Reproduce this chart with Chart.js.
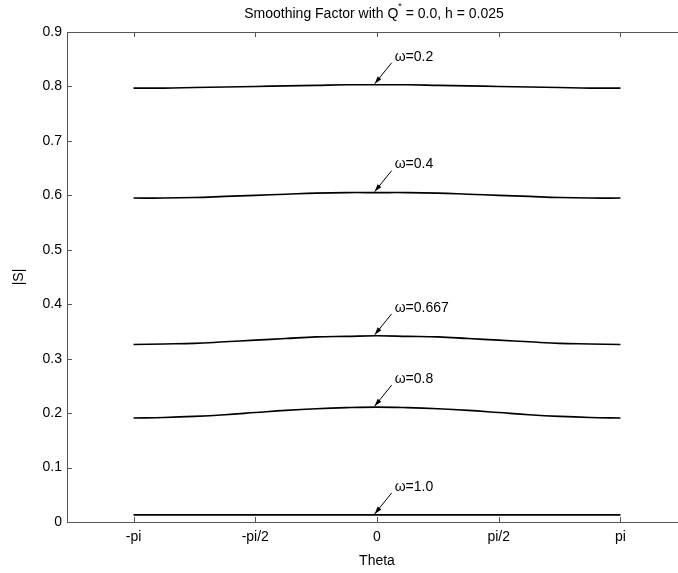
<!DOCTYPE html>
<html>
<head>
<meta charset="utf-8">
<script src="https://cdn.jsdelivr.net/npm/chart.js@4.4.1/dist/chart.umd.min.js"></script>
<style>
  html, body { margin: 0; padding: 0; background: #fff; overflow: hidden; }
  #wrap { width: 700px; height: 573px; }
</style>
</head>
<body>
<div id="wrap"><canvas id="smoothChart" width="700" height="573"></canvas></div>
<script>
const PI = Math.PI;

// theta samples, -pi .. pi in steps of pi/8
const theta = [-PI, -7*PI/8, -3*PI/4, -5*PI/8, -PI/2, -3*PI/8, -PI/4, -PI/8, 0,
               PI/8, PI/4, 3*PI/8, PI/2, 5*PI/8, 3*PI/4, 7*PI/8, PI];

// |S| for each relaxation factor
const sOmega02  = [0.797, 0.797, 0.798, 0.799, 0.800, 0.801, 0.802, 0.803, 0.803,
                   0.803, 0.802, 0.801, 0.800, 0.799, 0.798, 0.797, 0.797];
const sOmega04  = [0.595, 0.595, 0.596, 0.598, 0.600, 0.602, 0.604, 0.605, 0.605,
                   0.605, 0.604, 0.602, 0.600, 0.598, 0.596, 0.595, 0.595];
const sOmega067 = [0.326, 0.327, 0.328, 0.331, 0.334, 0.337, 0.340, 0.341, 0.342,
                   0.341, 0.340, 0.337, 0.334, 0.331, 0.328, 0.327, 0.326];
const sOmega08  = [0.191, 0.192, 0.194, 0.197, 0.201, 0.205, 0.208, 0.210, 0.211,
                   0.210, 0.208, 0.205, 0.201, 0.197, 0.194, 0.192, 0.191];
const sOmega10  = [0.013, 0.013, 0.013, 0.013, 0.013, 0.013, 0.013, 0.013, 0.013,
                   0.013, 0.013, 0.013, 0.013, 0.013, 0.013, 0.013, 0.013];

const seriesLabels = ['\u03c9=0.2', '\u03c9=0.4', '\u03c9=0.667', '\u03c9=0.8', '\u03c9=1.0'];
const seriesValues = [sOmega02, sOmega04, sOmega067, sOmega08, sOmega10];

const xTickValues = [-PI, -PI/2, 0, PI/2, PI];
const xTickLabels = ['-pi', '-pi/2', '0', 'pi/2', 'pi'];
const yTickValues = [0, 0.1, 0.2, 0.3, 0.4, 0.5, 0.6, 0.7, 0.8, 0.9];

const FONT = '"Liberation Sans", Arial, sans-serif';
const FS = 14;

const datasets = seriesValues.map((vals, i) => ({
  label: seriesLabels[i],
  data: vals.map((v, j) => ({ x: theta[j], y: v })),
  borderColor: '#000',
  borderWidth: 1.6,
  pointRadius: 0,
  tension: 0.4,
  fill: false
}));

// inward ticks, top border, title, axis labels and the arrow notes
const decorations = {
  id: 'decorations',
  afterDraw(chart) {
    const { ctx, chartArea: a, scales: { x, y } } = chart;
    ctx.save();
    ctx.strokeStyle = '#555';
    ctx.lineWidth = 1;
    ctx.beginPath();
    ctx.moveTo(a.left, a.top + 0.5);
    ctx.lineTo(a.right, a.top + 0.5);
    xTickValues.forEach(v => {
      const px = Math.round(x.getPixelForValue(v)) + 0.5;
      ctx.moveTo(px, a.bottom); ctx.lineTo(px, a.bottom - 5);
      ctx.moveTo(px, a.top); ctx.lineTo(px, a.top + 5);
    });
    yTickValues.forEach(v => {
      const py = Math.round(y.getPixelForValue(v)) + 0.5;
      ctx.moveTo(a.left, py); ctx.lineTo(a.left + 5, py);
      ctx.moveTo(a.right, py); ctx.lineTo(a.right - 5, py);
    });
    ctx.stroke();

    ctx.fillStyle = '#000';
    ctx.font = FS + 'px ' + FONT;
    ctx.textBaseline = 'middle';

    // title with superscript star
    const t1 = 'Smoothing Factor with Q', t2 = ' = 0.0, h = 0.025';
    const w1 = ctx.measureText(t1).width, w2 = ctx.measureText(t2).width;
    ctx.font = '9px ' + FONT;
    const ws = ctx.measureText('*').width;
    const cx = 374;
    let tx = cx - (w1 + ws + w2) / 2;
    ctx.font = FS + 'px ' + FONT;
    ctx.textAlign = 'left';
    ctx.fillText(t1, tx, 14);
    ctx.font = '9px ' + FONT;
    ctx.fillText('*', tx + w1, 7);
    ctx.font = FS + 'px ' + FONT;
    ctx.fillText(t2, tx + w1 + ws, 14);

    // axis titles
    ctx.textAlign = 'center';
    ctx.fillText('Theta', 377, 561);
    ctx.save();
    ctx.translate(19, 277);
    ctx.rotate(-Math.PI / 2);
    ctx.fillText('|S|', 0, 0);
    ctx.restore();

    // arrow notes pointing at the peak of each curve
    ctx.strokeStyle = '#000';
    ctx.textAlign = 'left';
    seriesValues.forEach((vals, i) => {
      const tipX = x.getPixelForValue(-0.03);
      const tipY = y.getPixelForValue(vals[8]) - 1;
      const sx = tipX + 17, sy = tipY - 21;
      ctx.beginPath();
      ctx.moveTo(sx, sy);
      ctx.lineTo(tipX, tipY);
      ctx.stroke();
      const ang = Math.atan2(tipY - sy, tipX - sx);
      ctx.beginPath();
      ctx.moveTo(tipX, tipY);
      ctx.lineTo(tipX - 8 * Math.cos(ang - 0.3), tipY - 8 * Math.sin(ang - 0.3));
      ctx.lineTo(tipX - 8 * Math.cos(ang + 0.3), tipY - 8 * Math.sin(ang + 0.3));
      ctx.closePath();
      ctx.fill();
      ctx.fillText(seriesLabels[i], sx + 3, sy - 6);
    });
    ctx.restore();
  }
};

new Chart(document.getElementById('smoothChart'), {
  type: 'line',
  data: { datasets },
  options: {
    responsive: false,
    animation: false,
    layout: { padding: { left: 0, top: 32, right: 13, bottom: 0 } },
    plugins: { legend: { display: false }, tooltip: { enabled: false } },
    scales: {
      x: {
        type: 'linear',
        min: -4,
        max: 4,
        afterBuildTicks: s => { s.ticks = xTickValues.map(v => ({ value: v })); },
        afterFit: s => { s.height = 51; },
        ticks: {
          callback: (v, i) => xTickLabels[i],
          font: { family: FONT, size: FS },
          color: '#000',
          padding: 7,
          maxRotation: 0,
          autoSkip: false
        },
        grid: { display: false, drawTicks: false },
        border: { display: true, color: '#555', width: 1 }
      },
      y: {
        min: 0,
        max: 0.9,
        afterBuildTicks: s => { s.ticks = yTickValues.map(v => ({ value: v })); },
        afterFit: s => { s.width = 67; },
        ticks: {
          callback: v => (v === 0 ? '0' : v.toFixed(1)),
          font: { family: FONT, size: FS },
          color: '#000',
          padding: 5
        },
        grid: { display: false, drawTicks: false },
        border: { display: true, color: '#555', width: 1 }
      }
    }
  },
  plugins: [decorations]
});
</script>
</body>
</html>
